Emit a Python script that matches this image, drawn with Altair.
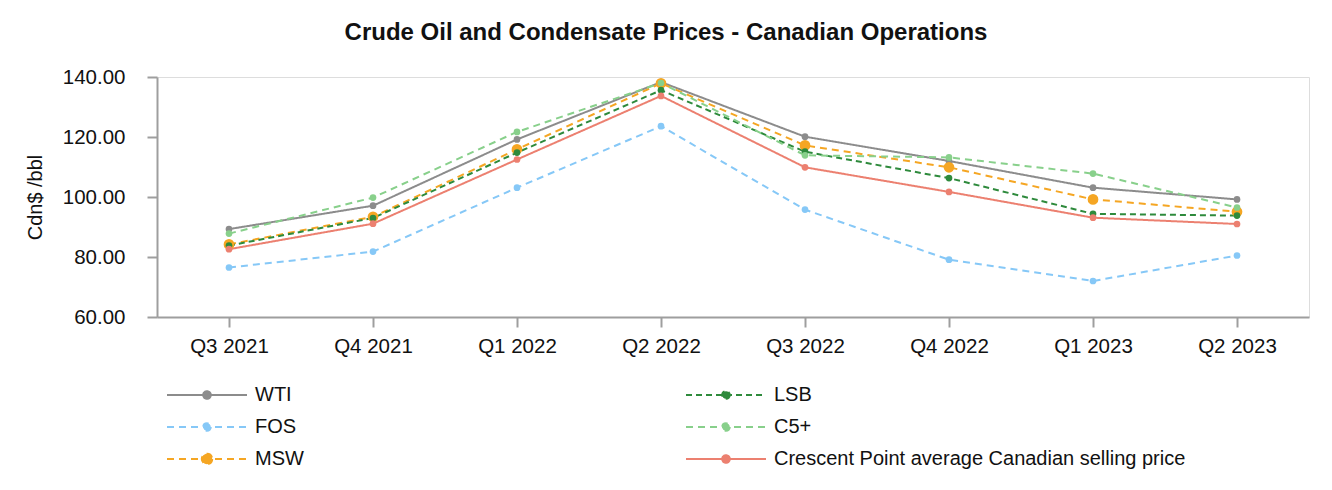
import altair as alt
import pandas as pd

quarters = ["Q3 2021", "Q4 2021", "Q1 2022", "Q2 2022", "Q3 2022", "Q4 2022", "Q1 2023", "Q2 2023"]
wti = [89.3, 97.1, 119.2, 138.3, 120.1, 112.0, 103.1, 99.2]
fos = [76.5, 81.8, 103.1, 123.6, 95.8, 79.1, 72.0, 80.5]
msw = [84.2, 93.4, 115.9, 137.9, 117.2, 109.9, 99.2, 95.1]
lsb = [83.8, 93.0, 114.8, 135.6, 115.1, 106.3, 94.4, 93.8]
c5 = [87.8, 99.8, 121.7, 138.0, 113.9, 113.2, 107.8, 96.5]
crescent = [82.6, 91.1, 112.5, 133.7, 109.9, 101.7, 93.1, 91.0]

series_names = ["WTI", "FOS", "MSW", "LSB", "C5+", "Crescent Point average Canadian selling price"]
series_values = [wti, fos, msw, lsb, c5, crescent]

rows = []
for name, vals in zip(series_names, series_values):
    for q, v in zip(quarters, vals):
        rows.append({"quarter": q, "series": name, "value": v})
df = pd.DataFrame(rows)

# legend order (column-major, 3 rows x 2 columns)
legend_order = series_names
colors = ["#8c8c8c", "#86c8f7", "#f5a623", "#2e8a3c", "#88d08b", "#ec8070"]
dashes = [[1, 0], [7, 5], [7, 5], [6, 4], [7, 5], [1, 0]]

small = "M-1,0L1,0M0.095,0A0.095,0.095,0,1,1,-0.095,0A0.095,0.095,0,1,1,0.095,0Z"
big = "M-1,0L1,0M0.13,0A0.13,0.13,0,1,1,-0.13,0A0.13,0.13,0,1,1,0.13,0Z"
shapes = [small, small, big, small, small, small]

FONT = "Liberation Sans"

leg = alt.Legend(
    title=None, orient="none", legendX=9, legendY=306, columns=2,
    columnPadding=381, rowPadding=8, clipHeight=24, symbolSize=6400, symbolStrokeWidth=2,
    labelFontSize=20, labelFont=FONT, labelColor="#111111", labelOffset=7,
    labelLimit=600, padding=0,
)

x_enc = alt.X("quarter:N", sort=quarters, title=None,
              scale=alt.Scale(type="point", padding=0.5),
              axis=alt.Axis(labelAngle=0, labelFontSize=20.5, labelFont=FONT, labelColor="#111111",
                            tickSize=10, tickColor="#9e9e9e", tickWidth=2, domainColor="#9e9e9e",
                            domainWidth=2, labelPadding=9, grid=False))
y_enc = alt.Y("value:Q", title="Cdn$ /bbl",
              scale=alt.Scale(domain=[60, 140], nice=False, zero=False),
              axis=alt.Axis(values=[60, 80, 100, 120, 140], format=".2f", labelFontSize=20.5,
                            labelFont=FONT, labelColor="#111111", tickSize=10, tickColor="#9e9e9e",
                            tickWidth=2, domainColor="#9e9e9e", domainWidth=2, labelPadding=22,
                            grid=False, titleFont=FONT, titleFontSize=20, titleFontWeight="normal",
                            titleColor="#111111", titlePadding=17))

base = alt.Chart(df).encode(x=x_enc, y=y_enc)

lines = base.mark_line(strokeWidth=2).encode(
    stroke=alt.Stroke("series:N", scale=alt.Scale(domain=legend_order, range=colors), legend=leg),
    strokeDash=alt.StrokeDash("series:N", scale=alt.Scale(domain=legend_order, range=dashes), legend=leg),
)

points = base.mark_circle(opacity=1).encode(
    fill=alt.Fill("series:N", scale=alt.Scale(domain=legend_order, range=colors), legend=leg),
    size=alt.condition(alt.datum.series == "MSW", alt.value(115), alt.value(45)),
)

shape_layer = base.mark_point(size=0, opacity=1).encode(
    shape=alt.Shape("series:N", scale=alt.Scale(domain=legend_order, range=shapes), legend=leg),
)

chart = alt.layer(lines, points, shape_layer).properties(
    width=1152, height=240,
    title=alt.TitleParams("Crude Oil and Condensate Prices - Canadian Operations", font=FONT,
                          fontSize=24, fontWeight="bold", color="#111111", anchor="middle", dx=-67,
                          offset=22),
    autosize=alt.AutoSizeParams(type="none"),
    padding={"left": 157, "top": 77, "right": 23, "bottom": 173},
).configure_view(stroke=None).configure(background="white")

chart.save("out.html", embed_options={"renderer": "svg", "actions": False})
